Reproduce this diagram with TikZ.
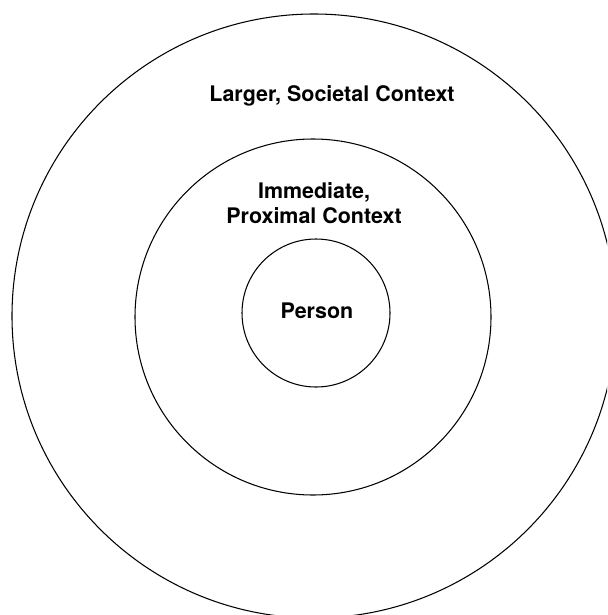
\documentclass[tikz,border=0pt]{standalone}
\usepackage{fontspec}
\setmainfont{TeX Gyre Heros}
\usetikzlibrary{positioning}

\tikzset{
  ring/.style={draw,circle,line width=0.9pt,inner sep=0pt},
  label text/.style={font=\fontsize{18.3}{21.3}\selectfont\bfseries,align=center}
}

\begin{document}
\begin{tikzpicture}[x=0.03cm,y=-0.03cm]
  \useasboundingbox (0,0) rectangle (607,615);
  \clip (0,0) rectangle (607,615);
  % rings
  \node[ring,minimum size=604*0.03cm] (outer) at (314,316) {};
  \node[ring,minimum size=356*0.03cm] (middle) at (313,317) {};
  \node[ring,minimum size=148*0.03cm] (inner) at (316,313) {};
  % labels
  \node[label text] (societal) at (332,96) {Larger, Societal Context};
  \node[label text] (proximal) at (314,203) {Immediate,\\Proximal Context};
  \node[label text] (person) at (317,311) {Person};
\end{tikzpicture}
\end{document}
